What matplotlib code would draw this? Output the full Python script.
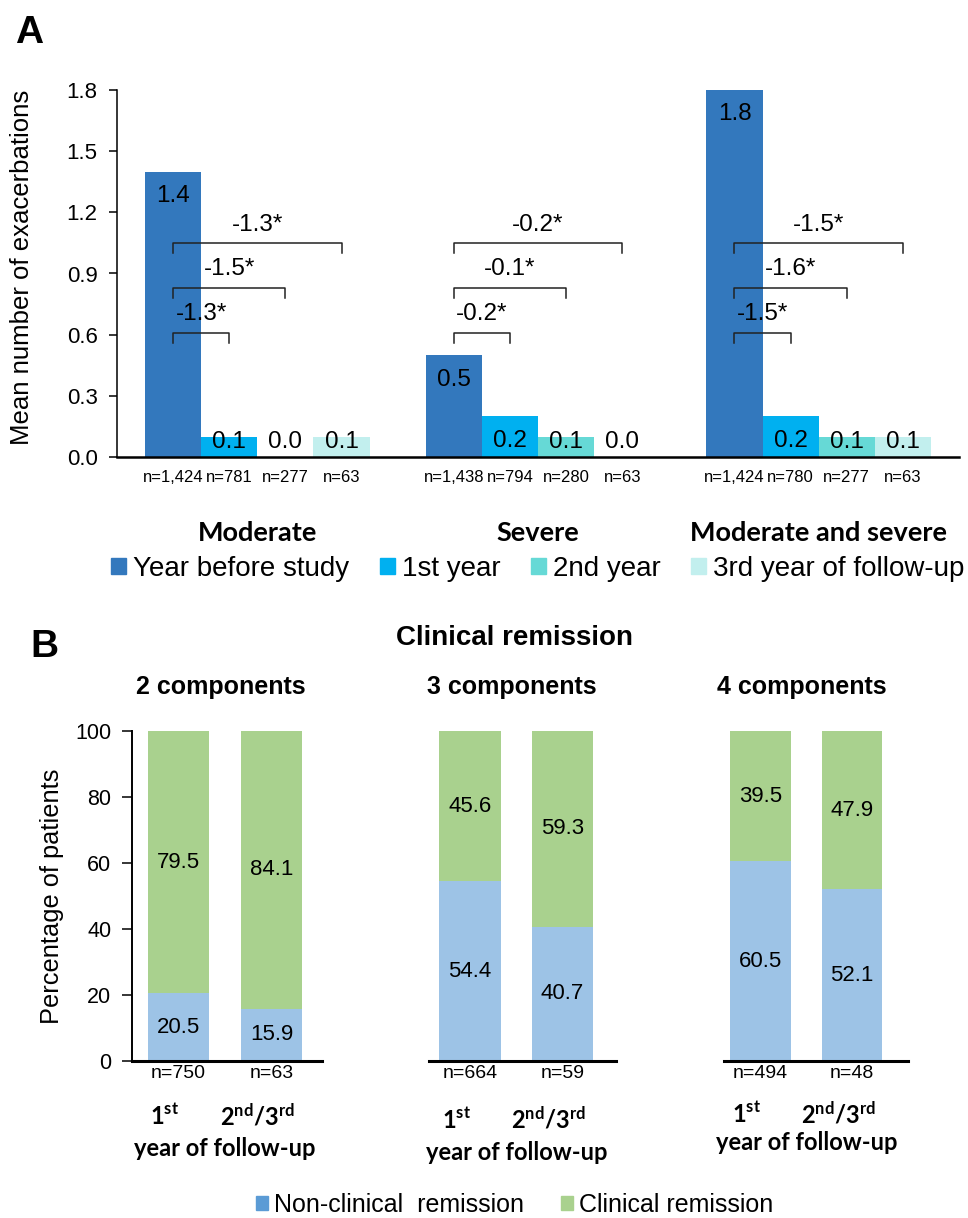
import matplotlib.pyplot as plt
import numpy as np
from matplotlib.patches import Patch
from matplotlib.transforms import blended_transform_factory

plt.rcParams['font.family'] = ['Liberation Sans', 'DejaVu Sans']
plt.rcParams['mathtext.fontset'] = 'custom'
plt.rcParams['mathtext.bf'] = 'Lato:bold'
plt.rcParams['mathtext.rm'] = 'Lato'

# ---- panel A data
severity = ['Moderate', 'Severe', 'Moderate and severe']
periods = ['Year before study', '1st year', '2nd year', '3rd year of follow-up']
period_colors = ['#3378BD', '#00B0F0', '#66D9D6', '#C2EFEE']
mean_moderate = [1.4, 0.1, 0.0, 0.1]
mean_severe = [0.5, 0.2, 0.1, 0.0]
mean_mod_sev = [1.8, 0.2, 0.1, 0.1]
n_moderate = ['n=1,424', 'n=781', 'n=277', 'n=63']
n_severe = ['n=1,438', 'n=794', 'n=280', 'n=63']
n_mod_sev = ['n=1,424', 'n=780', 'n=277', 'n=63']
# change vs year before study (1st, 2nd, 3rd year)
diff_moderate = ['-1.3*', '-1.5*', '-1.3*']
diff_severe = ['-0.2*', '-0.1*', '-0.2*']
diff_mod_sev = ['-1.5*', '-1.6*', '-1.5*']
y_ticks_a = [0.0, 0.3, 0.6, 0.9, 1.2, 1.5, 1.8]

# ---- panel B data
components = ['2 components', '3 components', '4 components']
non_clinical = [[20.5, 15.9], [54.4, 40.7], [60.5, 52.1]]
clinical = [[79.5, 84.1], [45.6, 59.3], [39.5, 47.9]]
n_b = [['n=750', 'n=63'], ['n=664', 'n=59'], ['n=494', 'n=48']]
year_labels = [r'$\mathbf{1^{st}}$', r'$\mathbf{2^{nd}/3^{rd}}$']
y_ticks_b = [0, 20, 40, 60, 80, 100]
col_non = '#9DC3E6'
col_clin = '#A9D18E'

W, H = 968, 1218
fig = plt.figure(figsize=(W / 100, H / 100), dpi=100)


def fy(px):
    return 1 - px / H


# =================== A ===================
axa = fig.add_axes([117 / W, fy(457), 842 / W, 367 / H])
means = [mean_moderate, mean_severe, mean_mod_sev]
ns = [n_moderate, n_severe, n_mod_sev]
diffs = [diff_moderate, diff_severe, diff_mod_sev]
bw = 0.2
bt = blended_transform_factory(axa.transData, fig.transFigure)
for g in range(3):
    xs = g + (np.arange(4) - 1.5) * bw
    axa.bar(xs, means[g], width=bw, color=period_colors, linewidth=0)
    for x, v, n in zip(xs, means[g], ns[g]):
        axa.text(x, max(v - 0.12, 0.075), f'{v:.1f}', ha='center', va='center', fontsize=17.5)
        axa.text(x, fy(477), n, transform=bt, ha='center', va='center', fontsize=12)
    # brackets
    levels = [0.61, 0.83, 1.05]
    for j, (lev, lab) in enumerate(zip(levels, diffs[g])):
        x0, x1 = xs[0], xs[j + 1]
        axa.plot([x0, x0, x1, x1], [lev - 0.05, lev, lev, lev - 0.05], color='#222222', lw=1.1)
        axa.text((x0 + x1) / 2, lev + 0.09, lab, ha='center', va='center', fontsize=17.5)
    axa.text(g, fy(533), severity[g], transform=bt, ha='center', va='center',
             fontsize=19.5, fontweight='bold', family='Lato')

axa.set_xlim(-0.5, 2.5)
axa.set_ylim(0, 1.8)
axa.set_yticks(y_ticks_a)
axa.set_yticklabels([f'{t:.1f}' for t in y_ticks_a])
axa.set_xticks([])
axa.tick_params(axis='y', labelsize=16, length=6, width=1.1, pad=8)
for s in ['top', 'right']:
    axa.spines[s].set_visible(False)
axa.spines['left'].set_linewidth(1.1)
axa.spines['bottom'].set_linewidth(1.8)
fig.text(22 / W, fy(267), 'Mean number of exacerbations', rotation=90,
         ha='center', va='center', fontsize=18.5)

fig.legend([Patch(color=c) for c in period_colors], periods, loc='center',
           bbox_to_anchor=(538 / W, fy(569)), ncol=4, frameon=False, fontsize=20,
           handlelength=0.54, handleheight=0.54, handletextpad=0.25,
           columnspacing=1.1, borderpad=0, borderaxespad=0)

fig.text(15 / W, fy(43), 'A', fontsize=28, fontweight='bold', va='baseline')
fig.text(30 / W, fy(657), 'B', fontsize=28, fontweight='bold', va='baseline')
fig.text(514 / W, fy(638), 'Clinical remission', fontsize=20, fontweight='bold',
         ha='center', va='center')

# =================== B ===================
b_pos = [(132, 322, -0.5, 1.543), (429, 616, -0.443, 1.578), (724, 908, -0.40, 1.61)]
year_y = [1148, 1153, 1142]
first_y = [1117, 1120, 1115]
for k in range(3):
    left, right, xl0, xl1 = b_pos[k]
    ax = fig.add_axes([left / W, fy(1061), (right - left) / W, 330 / H])
    xs = np.arange(2)
    ax.bar(xs, non_clinical[k], width=0.66, color=col_non, linewidth=0)
    ax.bar(xs, clinical[k], bottom=non_clinical[k], width=0.66, color=col_clin, linewidth=0)
    tb = blended_transform_factory(ax.transData, fig.transFigure)
    for x, a, b, n in zip(xs, non_clinical[k], clinical[k], n_b[k]):
        ax.text(x, a / 2, f'{a:.1f}', ha='center', va='center', fontsize=16)
        ax.text(x, a + b / 2, f'{b:.1f}', ha='center', va='center', fontsize=16)
        ax.text(x, fy(1074), n, transform=tb, ha='center', va='center', fontsize=14)
    for x, lab in zip(xs, year_labels):
        ax.text(x - 0.15, fy(first_y[k]), lab, transform=tb, ha='center', va='center', fontsize=17)
    ax.text(0.5, fy(year_y[k]), 'year of follow-up', transform=tb, ha='center', va='center',
            fontsize=17, fontweight='bold', family='Lato')
    ax.text(0.45, fy(687), components[k], transform=tb, ha='center', va='center',
            fontsize=18, fontweight='bold')
    ax.set_xlim(xl0, xl1)
    ax.set_ylim(0, 100)
    ax.set_xticks([])
    for s in ['top', 'right']:
        ax.spines[s].set_visible(False)
    ax.spines['bottom'].set_linewidth(2.2)
    if k == 0:
        ax.set_yticks(y_ticks_b)
        ax.tick_params(axis='y', labelsize=15.5, length=7, width=1.1, pad=8)
        ax.spines['left'].set_linewidth(1.4)
    else:
        ax.set_yticks([])
        ax.spines['left'].set_visible(False)

fig.text(52 / W, fy(896), 'Percentage of patients', rotation=90,
         ha='center', va='center', fontsize=18.3)

fig.legend([Patch(color='#5B9BD5'), Patch(color=col_clin)],
           ['Non-clinical  remission', 'Clinical remission'], loc='center',
           bbox_to_anchor=(514.5 / W, fy(1205)), ncol=2, frameon=False, fontsize=18,
           handlelength=0.48, handleheight=0.48, handletextpad=0.24,
           columnspacing=1.5, borderpad=0, borderaxespad=0)

fig.savefig('out.png', dpi=100)
